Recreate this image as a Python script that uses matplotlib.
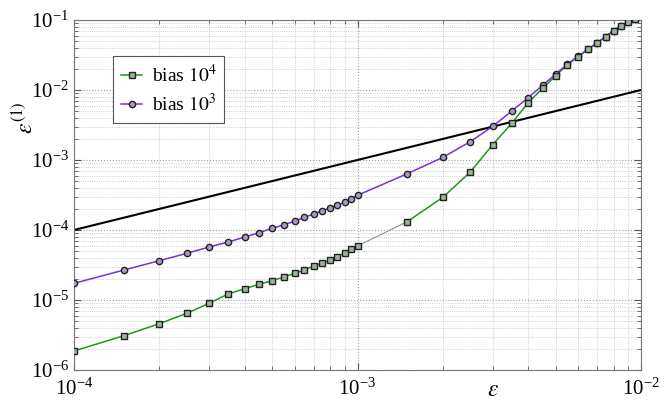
import numpy as np
import matplotlib
matplotlib.use('Agg')
import matplotlib.pyplot as plt

plt.rcParams['font.family'] = ['Liberation Serif', 'DejaVu Serif']
plt.rcParams['mathtext.fontset'] = 'stix'

# epsilon values (same for both series)
eps = [1e-4, 1.5e-4, 2e-4, 2.5e-4, 3e-4, 3.5e-4, 4e-4, 4.5e-4, 5e-4, 5.5e-4,
       6e-4, 6.5e-4, 7e-4, 7.5e-4, 8e-4, 8.5e-4, 9e-4, 9.5e-4, 1e-3,
       1.5e-3, 2e-3, 2.5e-3, 3e-3, 3.5e-3, 4e-3, 4.5e-3, 5e-3, 5.5e-3,
       6e-3, 6.5e-3, 7e-3, 7.5e-3, 8e-3, 8.5e-3, 9e-3, 9.5e-3]

# error, bias 10^4 (squares)
err_b4 = [1.87e-6, 3.09e-6, 4.59e-6, 6.45e-6, 9.0e-6, 1.22e-5, 1.45e-5, 1.68e-5,
          1.89e-5, 2.13e-5, 2.40e-5, 2.68e-5, 3.06e-5, 3.34e-5, 3.69e-5, 4.16e-5,
          4.74e-5, 5.30e-5, 5.91e-5,
          1.32e-4, 2.93e-4, 6.74e-4, 1.66e-3, 3.34e-3, 6.59e-3, 1.06e-2, 1.60e-2,
          2.28e-2, 3.0e-2, 3.8e-2, 4.7e-2, 5.8e-2, 7.0e-2, 8.3e-2, 9.3e-2, 0.104]

# error, bias 10^3 (circles)
err_b3 = [1.73e-5, 2.68e-5, 3.64e-5, 4.64e-5, 5.72e-5, 6.74e-5, 7.94e-5, 9.16e-5,
          1.056e-4, 1.19e-4, 1.33e-4, 1.52e-4, 1.69e-4, 1.89e-4, 2.06e-4, 2.25e-4,
          2.51e-4, 2.81e-4, 3.13e-4,
          6.38e-4, 1.09e-3, 1.83e-3, 3.03e-3, 5.01e-3, 7.76e-3, 1.17e-2, 1.69e-2,
          2.35e-2, 3.03e-2, 3.81e-2, 4.74e-2, 5.78e-2, 7.04e-2, 8.29e-2, 9.26e-2, 0.104]

# reference line  eps^(1) = eps
ref_x = [1e-4, 1e-2]
ref_y = [1e-4, 1e-2]

fig = plt.figure(figsize=(6.67, 4.01), dpi=100)
ax = fig.add_axes([74 / 667, 31 / 401, 567 / 667, 350 / 401])

green = '#1f951f'
ax.plot(ref_x, ref_y, color='black', lw=1.5, zorder=2)
# bias 1e4: the piece between 1e-3 and 1.5e-3 is a thin grey link
k = eps.index(1e-3)
ax.plot(eps[:k + 1], err_b4[:k + 1], color=green, lw=1.1, zorder=3)
ax.plot(eps[k:k + 2], err_b4[k:k + 2], color='#909090', lw=0.8, zorder=3)
ax.plot(eps[k + 1:], err_b4[k + 1:], color=green, lw=1.1, zorder=3)
ax.plot(eps, err_b4, ls='none', marker='s', ms=5,
        mfc='#9cb49c', mec='#222222', mew=1.0, zorder=4)
ax.plot([], [], color=green, lw=1.1, marker='s', ms=5, mfc='#9cb49c',
        mec='#222222', mew=1.0, label=r'bias $10^4$')
ax.plot(eps, err_b3, color='#7b2fd6', lw=1.1, marker='o', ms=4.5,
        mfc='#a69cc0', mec='#222222', mew=1.0, label=r'bias $10^3$', zorder=3)

ax.set_xscale('log')
ax.set_yscale('log')
ax.set_xlim(1e-4, 1e-2)
ax.set_ylim(1e-6, 1e-1)

ax.grid(True, which='major', linestyle=':', color='#a0a0a0', lw=0.8)
ax.grid(True, which='minor', linestyle=':', color='#c0c0c0', lw=0.6)

ax.tick_params(which='both', direction='in', top=True, right=True,
               colors='#555555', labelcolor='black', labelsize=15)
ax.tick_params(which='major', length=5)
ax.tick_params(which='minor', length=3)
ax.tick_params(axis='x', pad=6)
for s in ax.spines.values():
    s.set_color('#777777')

ax.set_xlabel(r'$\varepsilon$', fontsize=17)
ax.xaxis.set_label_coords(0.739, -0.03)
ax.set_ylabel(r'$\varepsilon^{(1)}$', fontsize=17)
ax.yaxis.set_label_coords(-0.063, 0.72)

leg = ax.legend(loc='upper left', bbox_to_anchor=(0.069, 0.897), fontsize=14,
                fancybox=False, framealpha=1, edgecolor='#555555',
                handlelength=1.1, handletextpad=0.5, borderpad=0.4,
                labelspacing=0.35, borderaxespad=0)
leg.get_frame().set_linewidth(0.8)

fig.savefig('out.png', dpi=100)
